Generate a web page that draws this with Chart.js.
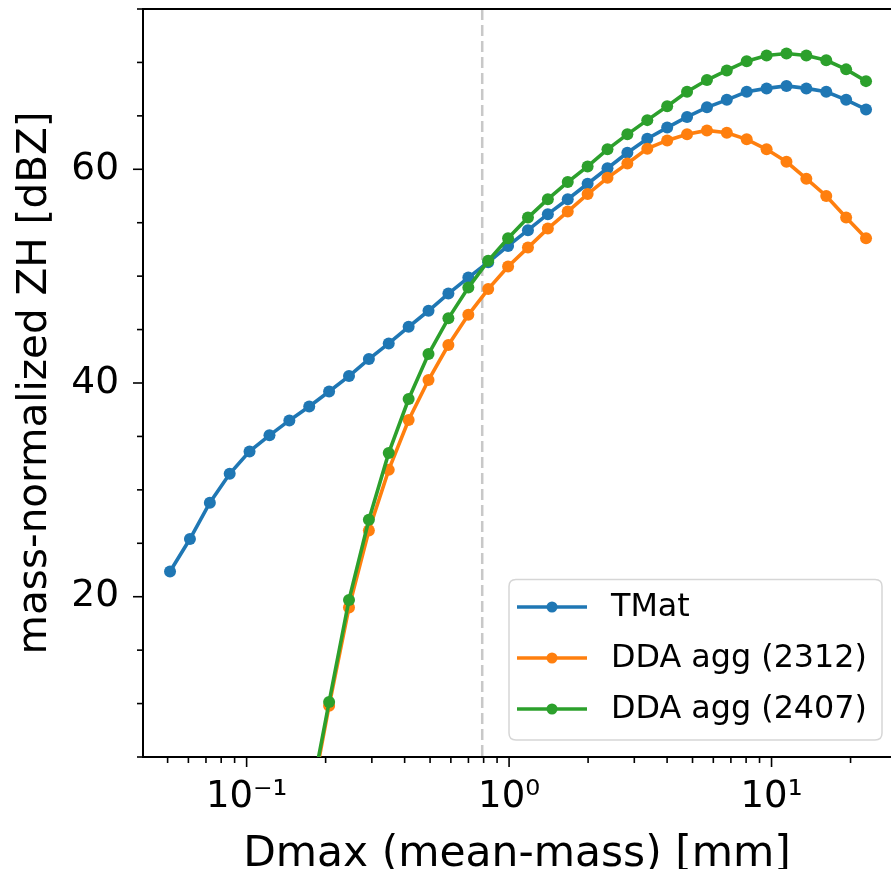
<!DOCTYPE html>
<html><head><meta charset="utf-8">
<script src="https://cdn.jsdelivr.net/npm/chart.js@4.4.1/dist/chart.umd.min.js"></script>
<style>html,body{margin:0;padding:0;background:#fff;overflow:hidden}#wrap{width:891px;height:869px;position:relative}canvas{display:block}</style>
</head><body><div id="wrap"><canvas id="c" width="891" height="869"></canvas></div>
<script>
// Dmax (mean-mass) [mm]
const dmax = [0.05107,0.06081,0.07243,0.08620,0.1026,0.1222,0.1455,0.1732,0.2062,0.2455,
  0.2923,0.3479,0.4143,0.4932,0.5872,0.6995,0.8325,0.9913,1.180,1.405,
  1.673,1.992,2.371,2.823,3.362,4.003,4.765,5.674,6.754,8.042,
  9.575,11.40,13.57,16.16,19.24,22.91];
// mass-normalized ZH [dBZ]
const tmat = [22.36,25.4,28.8,31.5,33.6,35.1,36.5,37.8,39.2,40.65,
  42.24,43.7,45.26,46.76,48.37,49.87,51.3,52.83,54.3,55.8,
  57.2,58.65,60.1,61.55,62.86,63.9,64.9,65.8,66.5,67.25,
  67.57,67.8,67.57,67.25,66.5,65.6];
const dda2312 = [null,null,null,null,null,null,null,0.0,9.8,19.0,
  26.2,31.87,36.54,40.28,43.55,46.38,48.79,50.9,52.67,54.45,
  56.04,57.68,59.2,60.54,61.93,62.7,63.27,63.64,63.42,62.8,
  61.87,60.7,59.12,57.5,55.48,53.55];
const dda2407 = [null,null,null,null,null,null,null,0.4,10.15,19.7,
  27.2,33.46,38.5,42.71,46.05,48.93,51.43,53.55,55.48,57.2,
  58.8,60.27,61.87,63.27,64.6,65.9,67.25,68.35,69.25,70.12,
  70.65,70.84,70.65,70.2,69.35,68.25];
const seriesLabels = ['TMat','DDA agg (2312)','DDA agg (2407)'];
const seriesColors = ['#1f77b4','#ff7f0e','#2ca02c'];
const xMajorValues = [0.1,1,10];
const xTickLabels = ['10\u207B\u00B9','10\u2070','10\u00B9'];
const yMajorValues = [20,40,60];
const yTickLabels = ['20','40','60'];
const markerD = 0.79;
const xRange = [0.04029,28.52];
const yRange = [5,75];

const FONT = "'DejaVu Sans', sans-serif";
function pts(ys){ return dmax.map((x,i)=>({x:x,y:ys[i]})); }
const allSeries = [tmat,dda2312,dda2407];

const datasets = allSeries.map((s,i)=>({
  label: seriesLabels[i],
  data: pts(s),
  borderColor: seriesColors[i],
  backgroundColor: seriesColors[i],
  pointBackgroundColor: seriesColors[i],
  pointBorderColor: seriesColors[i],
  pointBorderWidth: 0,
  pointRadius: 6,
  borderWidth: 3.6,
  tension: 0,
  spanGaps: false,
  order: 3 - i
}));

function isMajorX(v){ const l=Math.log10(v); return Math.abs(l-Math.round(l))<1e-6; }
function zeroPad(scale){ scale.paddingTop=0; scale.paddingBottom=0; scale.paddingLeft=0; scale.paddingRight=0; }

const framePlugin = {
  id:'frame',
  beforeDatasetsDraw(chart){
    const {ctx, chartArea:a, scales:{x}} = chart;
    const px = x.getPixelForValue(markerD);
    ctx.save();
    ctx.strokeStyle = '#c8c8c8';
    ctx.lineWidth = 2.5;
    ctx.setLineDash([11,5]);
    ctx.beginPath(); ctx.moveTo(px,a.top); ctx.lineTo(px,a.bottom); ctx.stroke();
    ctx.restore();
  },
  afterDraw(chart){
    const {ctx, chartArea:a, scales:{x,y}} = chart;
    ctx.save();
    ctx.strokeStyle = '#000';
    ctx.lineWidth = 2;
    ctx.beginPath(); ctx.moveTo(a.left-1,a.top); ctx.lineTo(a.right,a.top); ctx.stroke();
    ctx.lineWidth = 1.6;
    x.ticks.forEach(t=>{
      const p = x.getPixelForValue(t.value);
      const len = isMajorX(t.value) ? 10 : 6;
      ctx.beginPath(); ctx.moveTo(p,a.bottom); ctx.lineTo(p,a.bottom+len); ctx.stroke();
    });
    y.ticks.forEach(t=>{
      const p = y.getPixelForValue(t.value);
      const len = yMajorValues.includes(t.value) ? 10 : 6;
      ctx.beginPath(); ctx.moveTo(a.left,p); ctx.lineTo(a.left-len,p); ctx.stroke();
    });
    // legend
    const bx=509, by=579.5, bw=373, bh=160.5, r=7;
    ctx.beginPath();
    ctx.moveTo(bx+r,by); ctx.lineTo(bx+bw-r,by); ctx.quadraticCurveTo(bx+bw,by,bx+bw,by+r);
    ctx.lineTo(bx+bw,by+bh-r); ctx.quadraticCurveTo(bx+bw,by+bh,bx+bw-r,by+bh);
    ctx.lineTo(bx+r,by+bh); ctx.quadraticCurveTo(bx,by+bh,bx,by+bh-r);
    ctx.lineTo(bx,by+r); ctx.quadraticCurveTo(bx,by,bx+r,by); ctx.closePath();
    ctx.fillStyle='rgba(255,255,255,0.8)'; ctx.fill();
    ctx.strokeStyle='#d6d6d6'; ctx.lineWidth=1.5; ctx.stroke();
    const rows=[607,658,709];
    chart.data.datasets.forEach((d,i)=>{
      const yy=rows[i];
      ctx.strokeStyle=d.borderColor; ctx.lineWidth=3.6;
      ctx.beginPath(); ctx.moveTo(517,yy); ctx.lineTo(587,yy); ctx.stroke();
      ctx.fillStyle=d.borderColor;
      ctx.beginPath(); ctx.arc(552,yy,5.5,0,Math.PI*2); ctx.fill();
      ctx.fillStyle='#000'; ctx.font='31.8px '+FONT; ctx.textBaseline='middle'; ctx.textAlign='left';
      ctx.fillText(d.label,611,yy+1);
    });
    ctx.restore();
  }
};

new Chart(document.getElementById('c'), {
  type:'line',
  data:{ datasets },
  options:{
    responsive:false, animation:false, devicePixelRatio:1,
    layout:{ autoPadding:false, padding:{ top:9, right:0, bottom:0, left:0 } },
    plugins:{ legend:{display:false}, tooltip:{enabled:false} },
    scales:{
      x:{
        type:'logarithmic', min:xRange[0], max:xRange[1],
        afterBuildTicks(scale){
          const t=[];
          for(let d=-2; d<=2; d++){ for(let m=1;m<=9;m++){ const v=m*Math.pow(10,d); if(v>=scale.min*0.999 && v<=scale.max) t.push({value:v}); } }
          scale.ticks=t;
        },
        afterFit(scale){ scale.height=112; zeroPad(scale); },
        grid:{ display:true, drawOnChartArea:false, color:'rgba(0,0,0,0)', tickLength:10 },
        border:{ display:true, color:'#000', width:2 },
        ticks:{ autoSkip:false, maxRotation:0, padding:8, color:'#000',
          font:{ family:FONT, size:37 },
          callback(v){ const k = xMajorValues.findIndex(m=>Math.abs(m-v)/m<1e-6); return k>=0 ? xTickLabels[k] : ''; } },
        title:{ display:true, text:'Dmax (mean-mass) [mm]', color:'#000', font:{ family:FONT, size:42.4, lineHeight:0.68 }, padding:{top:0,bottom:0} }
      },
      y:{
        type:'linear', min:yRange[0], max:yRange[1],
        afterBuildTicks(scale){ const t=[]; for(let v=5; v<=75; v+=5) t.push({value:v}); scale.ticks=t; },
        afterFit(scale){ scale.width=143; zeroPad(scale); },
        grid:{ display:true, drawOnChartArea:false, color:'rgba(0,0,0,0)', tickLength:10 },
        border:{ display:true, color:'#000', width:2 },
        ticks:{ autoSkip:false, padding:14, color:'#000', font:{ family:FONT, size:37.5 },
          callback(v){ const k = yMajorValues.indexOf(v); return k>=0 ? yTickLabels[k] : ''; } },
        title:{ display:true, text:'mass-normalized ZH [dBZ]', color:'#000', font:{ family:FONT, size:40.5 }, padding:{top:11,bottom:0} }
      }
    }
  },
  plugins:[framePlugin]
});
</script></body></html>
